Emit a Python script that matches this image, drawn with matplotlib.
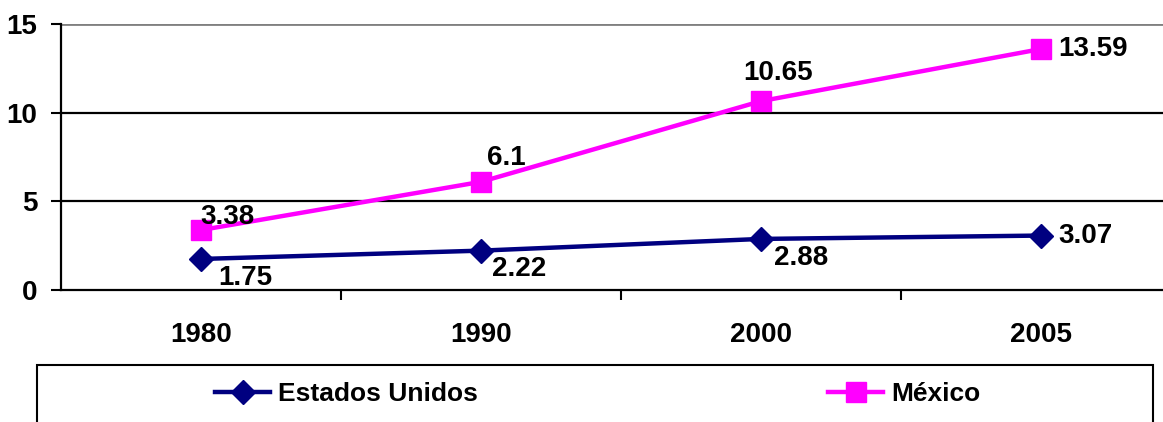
import matplotlib.pyplot as plt
from matplotlib.patches import Rectangle
from matplotlib.lines import Line2D

years = ["1980", "1990", "2000", "2005"]
eeuu = [1.75, 2.22, 2.88, 3.07]
mexico = [3.38, 6.1, 10.65, 13.59]

# label offsets in pixels (dx, dy) and horizontal alignment
eeuu_offsets = [(17, -19, "left"), (11, -18, "left"), (13, -19, "left"), (17, 0, "left")]
mexico_offsets = [(-1, 13, "left"), (6, 24, "left"), (-18, 28, "left"), (17, 0, "left")]

NAVY = "#000080"
MAGENTA = "#FF00FF"

plt.rcParams["font.family"] = ["Liberation Sans", "DejaVu Sans"]
plt.rcParams["font.weight"] = "bold"

FS = 20

W, H = 1163, 422
fig = plt.figure(figsize=(W / 100, H / 100), dpi=100)
ax = fig.add_axes([61 / W, (H - 290) / H, (1181 - 61) / W, (290 - 24) / H])

x = list(range(len(years)))
ax.plot(x, eeuu, color=NAVY, lw=3.2, marker="D", ms=12, mec=NAVY, mfc=NAVY, zorder=3)
ax.plot(x, mexico, color=MAGENTA, lw=3.2, marker="s", ms=15, mec=MAGENTA, mfc=MAGENTA, zorder=3)

px = 0.72  # points per pixel at 100 dpi
for xi, v, (dx, dy, ha) in zip(x, eeuu, eeuu_offsets):
    ax.annotate(f"{v:g}", (xi, v), xytext=(dx * px, dy * px), textcoords="offset points",
                ha=ha, va="center", fontsize=FS, fontweight="bold")
for xi, v, (dx, dy, ha) in zip(x, mexico, mexico_offsets):
    ax.annotate(f"{v:g}", (xi, v), xytext=(dx * px, dy * px), textcoords="offset points",
                ha=ha, va="center", fontsize=FS, fontweight="bold")

ax.set_xlim(-0.5, len(years) - 0.5)
ax.set_ylim(0, 15)
ax.set_yticks([0, 5, 10, 15])
ax.set_xticks(x)
ax.set_xticklabels(years, fontsize=FS, fontweight="bold")
ax.tick_params(axis="x", length=0, pad=23)
ax.tick_params(axis="y", labelsize=FS, length=7, width=1.5, direction="out", pad=10)
for lbl in ax.get_yticklabels():
    lbl.set_fontweight("bold")

# minor ticks between categories
ax.set_xticks([0.5, 1.5, 2.5], minor=True)
ax.tick_params(axis="x", which="minor", length=7, width=1.5, direction="out")

for v in [5, 10]:
    ax.axhline(v, color="black", lw=1.6, zorder=1)
ax.axhline(15, color="#808080", lw=2, zorder=1)

for s in ["top", "right"]:
    ax.spines[s].set_visible(False)
ax.spines["left"].set_linewidth(1.6)
ax.spines["bottom"].set_linewidth(1.6)

# legend box
fig.patches.append(Rectangle((37 / W, -0.05), (1153 - 37) / W, (H - 365) / H + 0.05,
                             transform=fig.transFigure, fill=False, ec="black", lw=1.5))

h1 = Line2D([], [], color=NAVY, lw=3.2, marker="D", ms=12)
h2 = Line2D([], [], color=MAGENTA, lw=3.2, marker="s", ms=15)
leg_kw = dict(loc="center left", frameon=False, borderpad=0, borderaxespad=0,
              handlelength=2.1, handletextpad=0.3, prop={"size": 19, "weight": "bold"})
fig.legend([h1], ["Estados Unidos"], bbox_to_anchor=(215 / W, (H - 394) / H), **leg_kw)
fig.legend([h2], ["México"], bbox_to_anchor=(828 / W, (H - 394) / H), **leg_kw)

fig.savefig("out.png", dpi=100)
